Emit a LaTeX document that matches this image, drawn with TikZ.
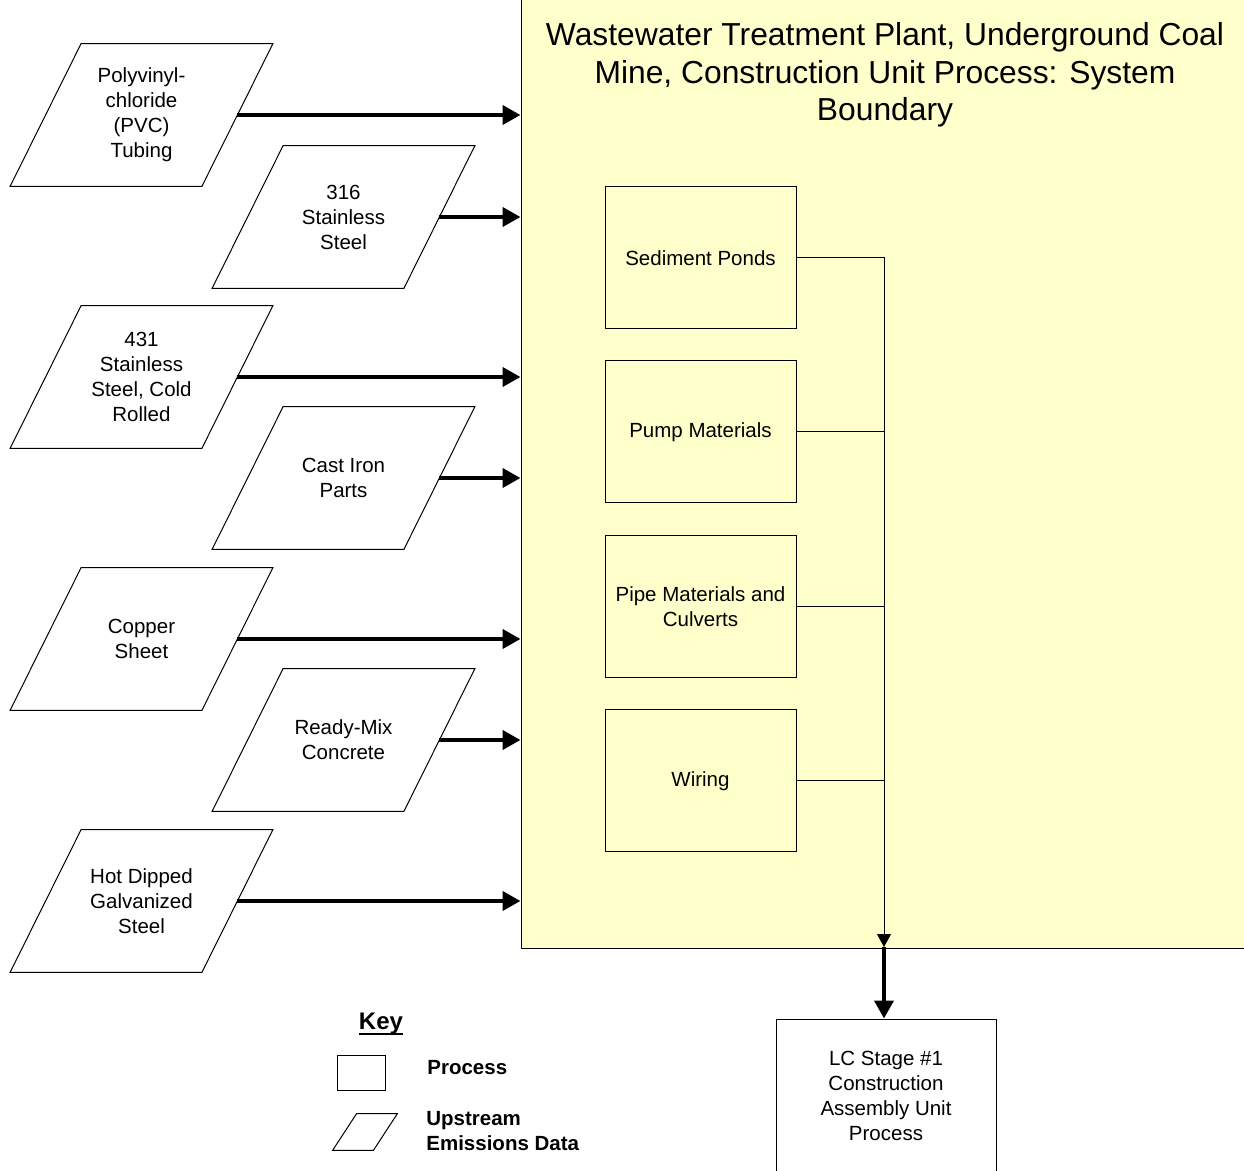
\documentclass[tikz,border=0pt]{standalone}
\usepackage{fontspec}
\setmainfont{Liberation Sans}
\usepackage{xcolor}
\usetikzlibrary{positioning,arrows.meta,shapes.geometric,calc}
\definecolor{boundaryfill}{RGB}{255,255,204}

\begin{document}
\begin{tikzpicture}[x=0.5pt,y=-0.5pt,
  txt/.style={font=\fontsize{10.25}{12.5}\selectfont,align=center},
  upstream/.style={txt,minimum width=95.5pt,minimum height=71pt,inner sep=0pt},
  process/.style={txt,draw,line width=0.5pt,minimum width=95.5pt,minimum height=71pt,inner sep=0pt},
  feed/.style={line width=2pt,-{Triangle[length=9pt,width=9.5pt]}},
  link/.style={line width=0.5pt},
  keytxt/.style={font=\fontsize{10.25}{12.5}\selectfont\bfseries,anchor=west,align=left,inner sep=0pt}]
  \useasboundingbox (0,0) rectangle (1244,1171);
  % system boundary
  \node[draw,fill=boundaryfill,line width=0.5pt,minimum width=363pt,minimum height=476pt,inner sep=0pt] (sys) at (884,472) {};
  \node[align=center,font=\fontsize{15.9}{18.75}\selectfont] (title) at (885,75)
    {Wastewater Treatment Plant, Underground Coal\\Mine, Construction Unit Process: System\\Boundary};

  % upstream materials
  \node[upstream] (pvc) at (141.5,115) {Polyvinyl-\\chloride\\(PVC)\\Tubing};
  \node[upstream] (ss316) at (343.5,217) {316\\Stainless\\Steel};
  \node[upstream] (ss431) at (141.5,377) {431\\Stainless\\Steel, Cold\\Rolled};
  \node[upstream] (iron) at (343.5,478) {Cast Iron\\Parts};
  \node[upstream] (copper) at (141.5,639) {Copper\\Sheet};
  \node[upstream] (concrete) at (343.5,740) {Ready-Mix\\Concrete};
  \node[upstream] (galv) at (141.5,901) {Hot Dipped\\Galvanized\\Steel};
  \foreach \m in {pvc,ss316,ss431,iron,copper,concrete,galv}{
    \draw[line width=0.5pt] ($(\m.north west)+(35.5,0)$) -- ($(\m.north east)+(35.5,0)$)
      -- ($(\m.south east)+(-35.5,0)$) -- ($(\m.south west)+(-35.5,0)$) -- cycle;
    \draw[feed] (\m.east) -- (\m.east -| sys.west);
  }

  % processes inside the boundary
  \node[process] (ponds) at (700.5,258) {Sediment Ponds};
  \node[process] (pump) at (700.5,432) {Pump Materials};
  \node[process] (pipe) at (700.5,607) {Pipe Materials and\\Culverts};
  \node[process] (wiring) at (700.5,781) {Wiring};
  \coordinate (bus) at (884,947);
  \draw[link,-{Triangle[length=6.5pt,width=7pt]}] (ponds.east) -| (bus);
  \foreach \p in {pump,pipe,wiring}
    \draw[link] (\p.east) -- (\p.east -| bus);

  \node[process,minimum width=110pt,minimum height=77pt] (lc) at (886,1096)
    {LC Stage \#1\\Construction\\Assembly Unit\\Process};
  \draw[feed] (bus) -- (bus |- lc.north);

  % key
  \node[font=\fontsize{12}{14}\selectfont\bfseries,inner sep=0pt] (key) at (381,1024) {Key};
  \draw[line width=1.1pt] ($(key.base west)+(0,4)$) -- ($(key.base east)+(0,4)$);
  \node[draw,line width=0.5pt,minimum width=24pt,minimum height=17.5pt,inner sep=0pt] (keyproc) at (361,1072.5) {};
  \node[minimum width=20pt,minimum height=18pt,inner sep=0pt] (keyup) at (365,1132) {};
  \draw[line width=0.5pt] ($(keyup.north west)+(12,0)$) -- ($(keyup.north east)+(12,0)$)
    -- ($(keyup.south east)+(-12,0)$) -- ($(keyup.south west)+(-12,0)$) -- cycle;
  \node[keytxt] (keyproctxt) at (427,1068) {Process};
  \node[keytxt] (keyuptxt) at (426,1131) {Upstream\\Emissions Data};
\end{tikzpicture}
\end{document}
